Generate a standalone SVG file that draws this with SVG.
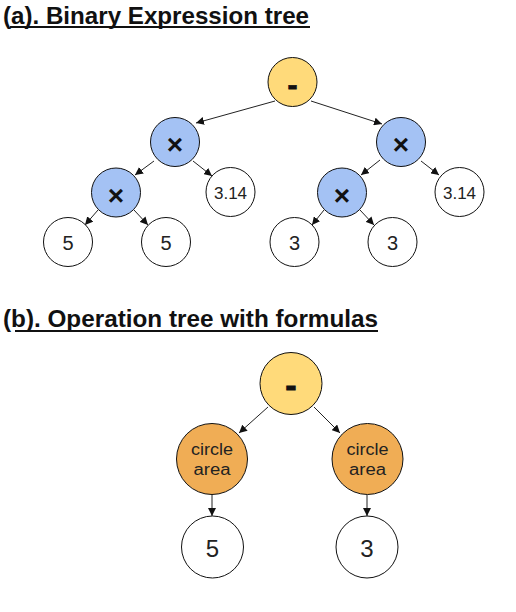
<svg xmlns="http://www.w3.org/2000/svg" width="516" height="612" viewBox="0 0 516 612">
<defs>
<marker id="arr" viewBox="0 0 10 10" refX="10" refY="5" markerWidth="8" markerHeight="8" orient="auto" markerUnits="userSpaceOnUse">
<path d="M0,0 L10,5 L0,10 z" fill="#111"/>
</marker>
<style>
.title{font-family:"Liberation Sans",Arial,sans-serif;font-weight:bold;font-size:24px;fill:#111}
.uline{stroke:#111;stroke-width:2}
.n circle{stroke:#111;stroke-width:1}
.yel{fill:#FFDA7A}
.blu{fill:#A4C2F4}
.org{fill:#F0AD55}
.wht{fill:#ffffff}
.op{font-family:"Liberation Sans",Arial,sans-serif;font-weight:bold;fill:#111;text-anchor:middle}
.dash{stroke:#111;stroke-width:0.8}
.num{font-family:"Liberation Sans",Arial,sans-serif;fill:#222;text-anchor:middle}
.e line{stroke:#222;stroke-width:1;marker-end:url(#arr)}
</style>
</defs>
<rect width="516" height="612" fill="#ffffff"/>

<g id="title-a">
<text class="title" x="3" y="24" textLength="306" lengthAdjust="spacingAndGlyphs">(a). Binary Expression tree</text>
<line class="uline" x1="10" y1="27" x2="310" y2="27"/>
</g>
<g id="title-b">
<text class="title" x="3" y="327" textLength="375" lengthAdjust="spacingAndGlyphs">(b). Operation tree with formulas</text>
<line class="uline" x1="15" y1="331" x2="378" y2="331"/>
</g>

<g id="connectors" class="e">
<line x1="275" y1="101" x2="196" y2="123"/>
<line x1="311" y1="101" x2="382" y2="124"/>
<line x1="154" y1="161" x2="135" y2="175"/>
<line x1="193" y1="161" x2="212" y2="176"/>
<line x1="380" y1="160" x2="361" y2="175"/>
<line x1="421" y1="161" x2="439" y2="175"/>
<line x1="98" y1="210" x2="85" y2="225"/>
<line x1="134" y1="210" x2="148" y2="225"/>
<line x1="324" y1="210" x2="312" y2="225"/>
<line x1="360" y1="210" x2="374" y2="225"/>
<line x1="268" y1="407" x2="239" y2="433"/>
<line x1="314" y1="407" x2="340" y2="433"/>
<line x1="212" y1="495" x2="212" y2="516"/>
<line x1="367" y1="495" x2="367" y2="516"/>
</g>

<g id="a-root" class="n"><circle class="yel" cx="292.5" cy="82" r="24.5"/><text class="op dash" x="292.5" y="94.5" font-size="30">-</text></g>
<g id="a-mul-l" class="n"><circle class="blu" cx="175" cy="142" r="24.5"/><text class="op" x="175" y="154" font-size="28">×</text></g>
<g id="a-mul-r" class="n"><circle class="blu" cx="401" cy="142" r="24.5"/><text class="op" x="401" y="154" font-size="28">×</text></g>
<g id="a-mul-ll" class="n"><circle class="blu" cx="116" cy="192.5" r="24.5"/><text class="op" x="116" y="204.5" font-size="28">×</text></g>
<g id="a-pi-l" class="n"><circle class="wht" cx="230.5" cy="192" r="24.5"/><text class="num" x="230.5" y="198.5" font-size="17">3.14</text></g>
<g id="a-mul-rl" class="n"><circle class="blu" cx="342" cy="192.5" r="24.5"/><text class="op" x="342" y="204.5" font-size="28">×</text></g>
<g id="a-pi-r" class="n"><circle class="wht" cx="459.5" cy="192" r="24.5"/><text class="num" x="459.5" y="198.5" font-size="17">3.14</text></g>
<g id="a-5a" class="n"><circle class="wht" cx="68" cy="242" r="24.5"/><text class="num" x="68" y="250" font-size="20">5</text></g>
<g id="a-5b" class="n"><circle class="wht" cx="166" cy="242" r="24.5"/><text class="num" x="166" y="250" font-size="20">5</text></g>
<g id="a-3a" class="n"><circle class="wht" cx="294.5" cy="242" r="24.5"/><text class="num" x="294.5" y="250" font-size="20">3</text></g>
<g id="a-3b" class="n"><circle class="wht" cx="392.5" cy="242" r="24.5"/><text class="num" x="392.5" y="250" font-size="20">3</text></g>

<g id="b-root" class="n"><circle class="yel" cx="291" cy="383.5" r="31"/><text class="op dash" x="291" y="397" font-size="34">-</text></g>
<g id="b-area-l" class="n"><circle class="org" cx="212" cy="459" r="35.5"/><text class="num" x="212" y="454.5" font-size="16" textLength="42" lengthAdjust="spacingAndGlyphs">circle</text><text class="num" x="212" y="475" font-size="16" textLength="37" lengthAdjust="spacingAndGlyphs">area</text></g>
<g id="b-area-r" class="n"><circle class="org" cx="367.5" cy="459" r="35.5"/><text class="num" x="367.5" y="454.5" font-size="16" textLength="42" lengthAdjust="spacingAndGlyphs">circle</text><text class="num" x="367.5" y="475" font-size="16" textLength="37" lengthAdjust="spacingAndGlyphs">area</text></g>
<g id="b-5" class="n"><circle class="wht" cx="212.5" cy="547" r="31"/><text class="num" x="212.5" y="556.5" font-size="24">5</text></g>
<g id="b-3" class="n"><circle class="wht" cx="367" cy="547" r="31"/><text class="num" x="367" y="556.5" font-size="24">3</text></g>
</svg>
